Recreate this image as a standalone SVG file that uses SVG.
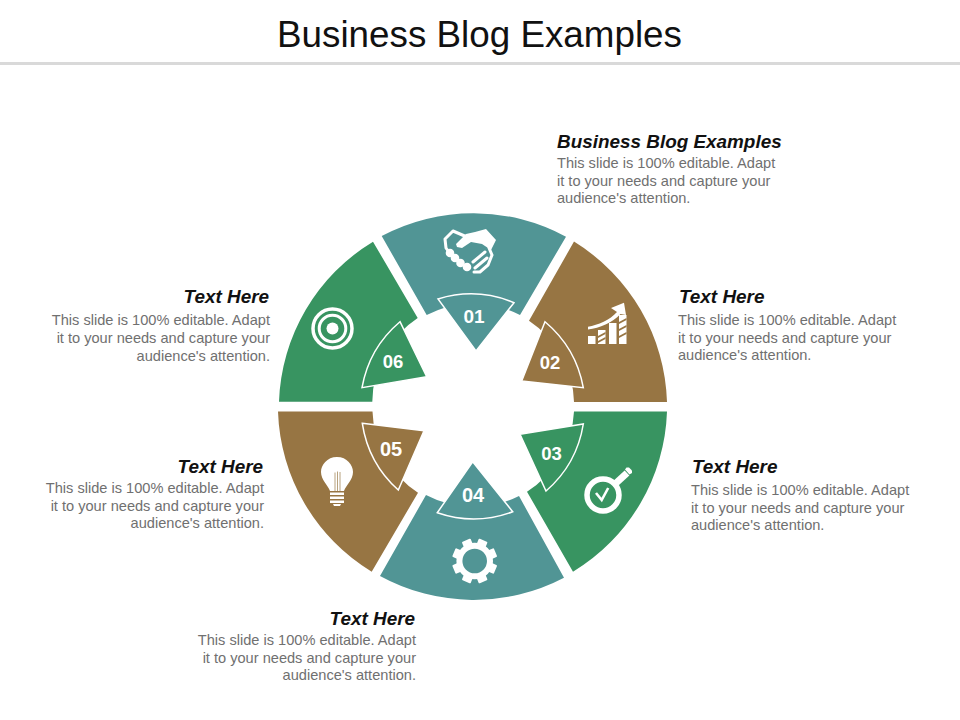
<svg xmlns="http://www.w3.org/2000/svg" width="960" height="720" viewBox="0 0 960 720">
<style>
text{font-family:"Liberation Sans",Arial,sans-serif}
.title{font-size:36.8px;fill:#111}
.h{font-size:18.9px;font-weight:bold;font-style:italic;fill:#111}
.b{font-size:14.6px;fill:#707070}
.n{font-weight:bold;fill:#fff;text-anchor:middle}
.e{text-anchor:end}
.teal{fill:#519595}.brown{fill:#977543}.green{fill:#389461}
.tip{stroke:#fff;stroke-width:1.5;stroke-linejoin:miter}
.w{fill:#fff}.o{fill:none;stroke:#fff}
</style>
<rect width="960" height="720" fill="#fff"/>
<text class="title" x="277" y="47">Business Blog Examples</text>
<rect x="0" y="62" width="960" height="3" fill="#d9d9d9"/>

<g id="node-01">
<path class="teal" d="M381.7 236A195 195 0 0 1 566 236.7L520 315A102 102 0 0 0 426.7 315Z"/>
<path class="teal tip" d="M438 299A112 112 0 0 1 514 302.7L476 351Z"/>
<g id="icon-handshake">
<path class="o" stroke-width="3" stroke-linejoin="round" d="M467 237L453 231L445 239L446 248L451 255"/>
<path class="w" d="M456 244L466 234L475 232L486 229L496 240L491 250L482 244L471 242L462 248L457 247Z"/>
<path class="o" stroke-width="3" stroke-linecap="round" d="M489 248L492 255L488 265L480 272L474 272M473 262L485 252M475 268L487 258"/>
<circle class="w" cx="450" cy="253" r="4.300"/><circle class="w" cx="455" cy="258" r="4.300"/><circle class="w" cx="460.500" cy="263" r="4.300"/><circle class="w" cx="467" cy="267" r="4.300"/>
</g>
<text class="n" font-size="19" x="474" y="323">01</text>
</g>

<g id="node-02">
<path class="brown" d="M574 241.6A195 195 0 0 1 667 402L574 402A101 101 0 0 0 529 320.7Z"/>
<path class="brown tip" d="M545 321.7A112 112 0 0 1 583.3 387.7L521.7 381Z"/>
<g id="icon-chart">
<path class="w" d="M588 336h7.500v8h-7.500zM609 323h7.500v21h-7.500z"/>
<path class="w" d="M598 330h7.500v14h-7.500zM619 315h7.500v29h-7.500z"/>
<path fill="#977543" d="M598 336l7.500-4v2l-7.500 4zM598 341l7.500-4v2l-7.500 4zM619 322l7.500-4v2l-7.500 4zM619 329l7.500-4v2l-7.500 4zM619 336l7.500-4v2l-7.500 4z"/>
<path class="w" d="M588 326.700C598 325 610 320 617 312L611 308L624 302.700L626 315L620.500 314C612 323 600 328 588 329.500Z"/>
</g>
<text class="n" font-size="18.500" x="550" y="369">02</text>
</g>

<g id="node-03">
<path class="green" d="M574 411.5L667 411.5A195 195 0 0 1 573 571.7L527 491.7A101 101 0 0 0 574 411.5Z"/>
<path class="green tip" d="M583.3 424A112 112 0 0 1 546 491L520 434.3Z"/>
<g id="icon-check">
<circle class="o" cx="603" cy="495" r="16" stroke-width="5.500"/>
<path class="o" stroke-width="7" d="M615 484L627 473"/>
<path class="w" d="M626.500 467.500l2.500 0 3 3 0 2.500-2.500 1.500-4.500-5Z"/>
<path class="o" stroke-width="2.600" d="M596 493l5.700 7 6.500-12"/>
</g>
<text class="n" font-size="18.500" x="551.500" y="460">03</text>
</g>

<g id="node-04">
<path class="teal" d="M426 495A102 102 0 0 0 519 496L564 577.7A195 195 0 0 1 380 576Z"/>
<path class="teal tip" d="M472.700 461.700L512.700 511.700A112 112 0 0 1 437.300 512.700Z"/>
<g id="icon-gear">
<circle class="o" cx="474.700" cy="561" r="15.300" stroke-width="6"/>
<g class="w" transform="rotate(22.500 474.700 561)"><rect x="470" y="538.500" width="9.400" height="8" rx="1"/><rect x="470" y="575.500" width="9.400" height="8" rx="1"/>
<rect x="470" y="538.500" width="9.400" height="8" rx="1" transform="rotate(45 474.700 561)"/><rect x="470" y="575.500" width="9.400" height="8" rx="1" transform="rotate(45 474.700 561)"/>
<rect x="470" y="538.500" width="9.400" height="8" rx="1" transform="rotate(90 474.700 561)"/><rect x="470" y="575.500" width="9.400" height="8" rx="1" transform="rotate(90 474.700 561)"/>
<rect x="470" y="538.500" width="9.400" height="8" rx="1" transform="rotate(135 474.700 561)"/><rect x="470" y="575.500" width="9.400" height="8" rx="1" transform="rotate(135 474.700 561)"/></g>
</g>
<text class="n" font-size="20" x="473" y="502">04</text>
</g>

<g id="node-05">
<path class="brown" d="M278 411.5L372.5 411.5A101 101 0 0 0 418 492.7L371.7 571.7A195 195 0 0 1 278 411.5Z"/>
<path class="brown tip" d="M362.300 423.300L424 430.700L398.300 490A112 112 0 0 1 362.300 423.300Z"/>
<g id="icon-bulb">
<path class="w" d="M337 457C327 457 321 465 321 472C321 480 328 485 330 491H344C346 485 353 480 353 472C353 465 347 457 337 457Z"/>
<path fill="none" stroke="#b8a27e" stroke-width="1" d="M335 491V472.500M337.500 491V471.500M340 491V472"/>
<path class="w" d="M330 492.500h14v2.500h-14zM330 496.500h14v2.500h-14zM330 500.500h14v2.500h-14zM333 504h8l-1 2h-6z"/>
</g>
<text class="n" font-size="20" x="391" y="456">05</text>
</g>

<g id="node-06">
<path class="green" d="M279 401.700A195 195 0 0 1 373 241.700L417.700 318A101 101 0 0 0 372.300 401.700Z"/>
<path class="green tip" d="M400 321.700L426.700 376.700L362 387.700A112 112 0 0 1 400 321.700Z"/>
<g id="icon-target">
<circle class="o" cx="332.500" cy="328.500" r="19.500" stroke-width="3.500"/>
<circle class="o" cx="332.500" cy="328.500" r="13.300" stroke-width="3"/>
<circle class="w" cx="332.500" cy="328.500" r="6"/>
</g>
<text class="n" font-size="18.500" x="393" y="368">06</text>
</g>

<g id="label-1">
<text class="h" x="557" y="148">Business Blog Examples</text>
<text class="b" x="557" y="168">This slide is 100% editable. Adapt</text>
<text class="b" x="557" y="186">it to your needs and capture your</text>
<text class="b" x="557" y="203">audience's attention.</text>
</g>
<g id="label-2">
<text class="h" x="679" y="303">Text Here</text>
<text class="b" x="678" y="325">This slide is 100% editable. Adapt</text>
<text class="b" x="678" y="343">it to your needs and capture your</text>
<text class="b" x="678" y="360">audience's attention.</text>
</g>
<g id="label-3">
<text class="h" x="692" y="473">Text Here</text>
<text class="b" x="691" y="495">This slide is 100% editable. Adapt</text>
<text class="b" x="691" y="513">it to your needs and capture your</text>
<text class="b" x="691" y="530">audience's attention.</text>
</g>
<g id="label-4">
<text class="h e" x="415" y="625">Text Here</text>
<text class="b e" x="416" y="645">This slide is 100% editable. Adapt</text>
<text class="b e" x="416" y="663">it to your needs and capture your</text>
<text class="b e" x="416" y="680">audience's attention.</text>
</g>
<g id="label-5">
<text class="h e" x="263" y="473">Text Here</text>
<text class="b e" x="264" y="493">This slide is 100% editable. Adapt</text>
<text class="b e" x="264" y="511">it to your needs and capture your</text>
<text class="b e" x="264" y="528">audience's attention.</text>
</g>
<g id="label-6">
<text class="h e" x="269" y="303">Text Here</text>
<text class="b e" x="270" y="325">This slide is 100% editable. Adapt</text>
<text class="b e" x="270" y="343">it to your needs and capture your</text>
<text class="b e" x="270" y="361">audience's attention.</text>
</g>
</svg>
